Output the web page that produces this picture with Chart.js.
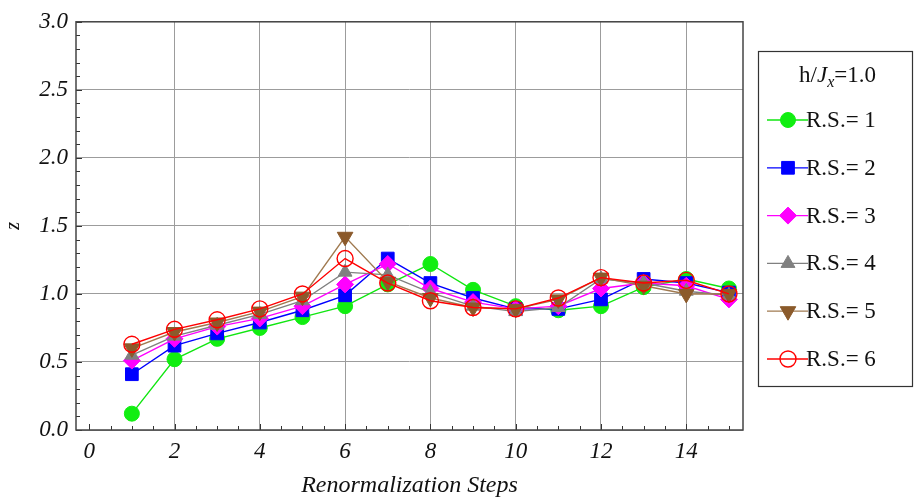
<!DOCTYPE html>
<html>
<head>
<meta charset="utf-8">
<script src="https://cdn.jsdelivr.net/npm/chart.js@4/dist/chart.umd.min.js"></script>
<style>
  body { margin: 0; background: #fff; }
  #wrap { width: 916px; height: 498px; }
</style>
</head>
<body>
<div id="wrap"><canvas id="zChart" width="916" height="498"></canvas></div>
<script>
// renormalization steps on the x axis
const steps = [1, 2, 3, 4, 5, 6, 7, 8, 9, 10, 11, 12, 13, 14, 15];
// z values for each R.S. series
const rs1 = [0.12, 0.52, 0.67, 0.75, 0.83, 0.91, 1.07, 1.22, 1.03, 0.91, 0.88, 0.91, 1.05, 1.11, 1.04];
const rs2 = [0.41, 0.62, 0.71, 0.79, 0.88, 0.99, 1.26, 1.08, 0.97, 0.89, 0.89, 0.96, 1.11, 1.08, 1.01];
const rs3 = [0.51, 0.67, 0.76, 0.82, 0.91, 1.07, 1.22, 1.04, 0.94, 0.89, 0.91, 1.04, 1.08, 1.06, 0.96];
const rs4 = [0.55, 0.69, 0.77, 0.85, 0.95, 1.16, 1.14, 1.01, 0.91, 0.87, 0.90, 1.11, 1.08, 1.02, 0.99];
const rs5 = [0.60, 0.72, 0.79, 0.87, 0.98, 1.42, 1.09, 0.97, 0.90, 0.89, 0.96, 1.12, 1.06, 1.00, 1.00];
const rs6 = [0.63, 0.74, 0.81, 0.89, 1.00, 1.26, 1.08, 0.95, 0.90, 0.89, 0.97, 1.12, 1.08, 1.10, 1.00];
const seriesLabels = ['R.S.= 1', 'R.S.= 2', 'R.S.= 3', 'R.S.= 4', 'R.S.= 5', 'R.S.= 6'];
const xTicks = [0, 2, 4, 6, 8, 10, 12, 14];
const yTicks = [0, 0.5, 1.0, 1.5, 2.0, 2.5, 3.0];

const serif = '"Liberation Serif", "DejaVu Serif", serif';
const gridCol = '#9c9c9c';

function pts(vals) {
  return vals.map((v, i) => ({x: steps[i], y: v}));
}

// look of each series
const styles = [
  {line: '#11e611', fill: '#11ee11', stroke: '#11ee11', shape: 'circle', r: 7.5, rot: 0},
  {line: '#0000ff', fill: '#0000ff', stroke: '#0000ff', shape: 'rect', r: 9, rot: 0},
  {line: '#ff00ff', fill: '#ff00ff', stroke: '#ff00ff', shape: 'rectRot', r: 8.5, rot: 0},
  {line: '#808080', fill: '#808080', stroke: '#808080', shape: 'triangle', r: 8, rot: 0},
  {line: '#a07a50', fill: '#8b5a2b', stroke: '#8b5a2b', shape: 'triangle', r: 9, rot: 180},
  {line: '#ff0000', fill: 'rgba(0,0,0,0)', stroke: '#ff0000', shape: 'circle', r: 8, rot: 0}
];
const allSeries = [rs1, rs2, rs3, rs4, rs5, rs6];

const datasets = allSeries.map((vals, i) => ({
  label: seriesLabels[i],
  data: pts(vals),
  showLine: true,
  borderColor: styles[i].line,
  borderWidth: 1.4,
  pointStyle: styles[i].shape,
  pointRadius: styles[i].r,
  pointRotation: styles[i].rot,
  pointBackgroundColor: styles[i].fill,
  pointBorderColor: styles[i].stroke,
  pointBorderWidth: i === 5 ? 1.4 : 1,
  order: 6 - i
}));

// small marker drawer for the legend
function marker(ctx, st, x, y) {
  ctx.save();
  ctx.fillStyle = st.fill;
  ctx.strokeStyle = st.stroke;
  ctx.lineWidth = st.fill.startsWith('rgba') ? 1.4 : 1;
  ctx.beginPath();
  const r = st.r;
  if (st.shape === 'circle') {
    ctx.arc(x, y, r, 0, Math.PI * 2);
  } else if (st.shape === 'rect') {
    const s = Math.SQRT1_2 * r;
    ctx.rect(x - s, y - s, 2 * s, 2 * s);
  } else if (st.shape === 'rectRot') {
    ctx.moveTo(x - r, y); ctx.lineTo(x, y - r); ctx.lineTo(x + r, y); ctx.lineTo(x, y + r);
    ctx.closePath();
  } else {
    let a = st.rot * Math.PI / 180;
    ctx.moveTo(x + Math.sin(a) * r, y - Math.cos(a) * r);
    a += 2 * Math.PI / 3;
    ctx.lineTo(x + Math.sin(a) * r, y - Math.cos(a) * r);
    a += 2 * Math.PI / 3;
    ctx.lineTo(x + Math.sin(a) * r, y - Math.cos(a) * r);
    ctx.closePath();
  }
  ctx.fill();
  ctx.stroke();
  ctx.restore();
}

const framePlugin = {
  id: 'framePlugin',
  afterDraw(chart) {
    const ctx = chart.ctx;
    const a = chart.chartArea;
    const xs = chart.scales.x, ys = chart.scales.y;
    ctx.save();
    // inward ticks
    ctx.strokeStyle = '#333';
    ctx.lineWidth = 1;
    ctx.beginPath();
    for (let k = 0; k <= 30; k++) {
      const px = Math.round(xs.getPixelForValue(k / 2)) + 0.5;
      const len = k % 4 === 0 ? 6 : 4;
      ctx.moveTo(px, a.bottom); ctx.lineTo(px, a.bottom - len);
    }
    for (let k = 0; k <= 30; k++) {
      const py = Math.round(ys.getPixelForValue(k / 10)) + 0.5;
      const len = k % 5 === 0 ? 6 : 4;
      ctx.moveTo(a.left, py); ctx.lineTo(a.left + len, py);
    }
    ctx.stroke();
    // frame
    ctx.lineWidth = 1.5;
    ctx.strokeStyle = '#444';
    ctx.strokeRect(a.left, a.top, a.right - a.left, a.bottom - a.top);

    // axis titles
    ctx.fillStyle = '#111';
    ctx.font = 'italic 24px ' + serif;
    ctx.textAlign = 'center';
    ctx.textBaseline = 'alphabetic';
    ctx.fillText('Renormalization Steps', (a.left + a.right) / 2, 492);
    ctx.save();
    ctx.translate(19, (a.top + a.bottom) / 2);
    ctx.rotate(-Math.PI / 2);
    ctx.font = 'italic 20px ' + serif;
    ctx.fillText('z', 0, 0);
    ctx.restore();

    // legend box
    const bx = 758.5, by = 51.5, bw = 154, bh = 335;
    ctx.lineWidth = 1.2;
    ctx.strokeStyle = '#333';
    ctx.strokeRect(bx, by, bw, bh);

    // legend title h/J_x=1.0
    ctx.textAlign = 'left';
    ctx.fillStyle = '#111';
    const parts = [
      {t: 'h/', f: '23px ' + serif, dy: 0},
      {t: 'J', f: 'italic 23px ' + serif, dy: 0},
      {t: 'x', f: 'italic 16px ' + serif, dy: 5},
      {t: '=1.0', f: '23px ' + serif, dy: 0}
    ];
    let tw = 0;
    parts.forEach(p => { ctx.font = p.f; tw += ctx.measureText(p.t).width; });
    let tx = bx + bw / 2 - tw / 2 + 2;
    parts.forEach(p => {
      ctx.font = p.f;
      ctx.fillText(p.t, tx, 82 + p.dy);
      tx += ctx.measureText(p.t).width;
    });

    // legend entries
    ctx.font = '23px ' + serif;
    ctx.textBaseline = 'middle';
    chart.data.datasets.forEach((ds, i) => {
      const ly = 120 + i * 47.8;
      ctx.strokeStyle = styles[i].line;
      ctx.lineWidth = 1.3;
      ctx.beginPath();
      ctx.moveTo(767, ly); ctx.lineTo(808, ly);
      ctx.stroke();
      marker(ctx, styles[i], 788, ly);
      ctx.fillStyle = '#111';
      ctx.fillText(ds.label, 806, ly + 1);
    });
    ctx.restore();
  }
};

new Chart(document.getElementById('zChart'), {
  type: 'scatter',
  data: {datasets: datasets},
  options: {
    responsive: false,
    animation: false,
    layout: {padding: {left: 0, top: 18, right: 173, bottom: 0}},
    plugins: {
      legend: {display: false},
      tooltip: {enabled: false}
    },
    scales: {
      x: {
        type: 'linear',
        min: -0.31,
        max: 15.33,
        afterBuildTicks: s => { s.ticks = xTicks.map(v => ({value: v})); },
        afterFit: s => { s.height = 68; },
        grid: {
          drawTicks: false,
          color: c => (c.tick && c.tick.value === 0) ? 'rgba(0,0,0,0)' : gridCol,
          lineWidth: 1
        },
        border: {display: false},
        ticks: {
          padding: 8,
          color: '#111',
          font: {family: serif, size: 23, style: 'italic'},
          callback: v => String(v)
        }
      },
      y: {
        type: 'linear',
        min: 0,
        max: 3,
        afterBuildTicks: s => { s.ticks = yTicks.map(v => ({value: v})); },
        afterFit: s => { s.width = 76; },
        grid: {drawTicks: false, color: gridCol, lineWidth: 1},
        border: {display: false},
        ticks: {
          padding: 8,
          color: '#111',
          font: {family: serif, size: 23, style: 'italic'},
          callback: v => Number(v).toFixed(1)
        }
      }
    }
  },
  plugins: [framePlugin]
});
</script>
</body>
</html>
